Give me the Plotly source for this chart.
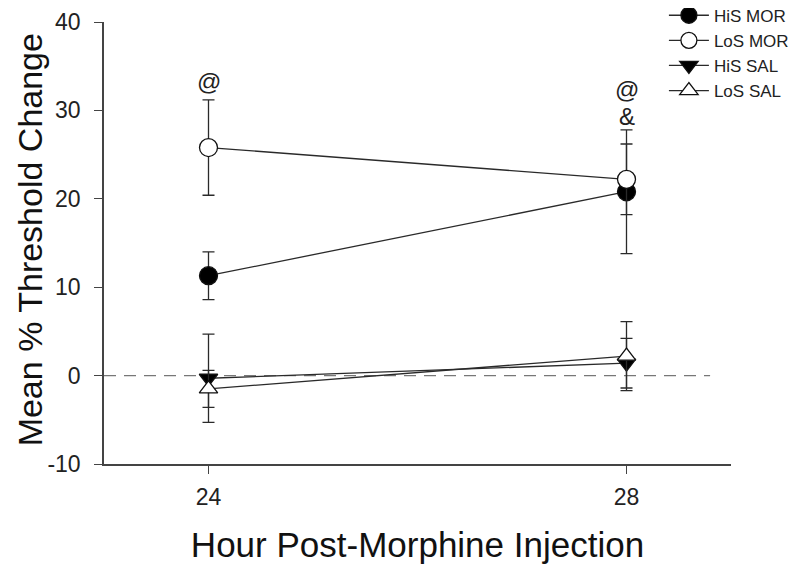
import plotly.graph_objects as go

hours = [24, 28]
his_mor = [11.3, 20.8]
his_mor_err = [2.7, 7.0]
los_mor = [25.8, 22.2]
los_mor_err = [5.4, 4.0]
his_sal = [-0.3, 1.4]
his_sal_err = [5.0, 2.8]
los_sal = [-1.5, 2.2]
los_sal_err = [2.1, 3.9]

y_ticks = [-10, 0, 10, 20, 30, 40]
y_tick_text = ["-10", "0", "10", "20", "30", "40"]
x_ticks = [24, 28]

marks = [("@", 24, 33.3), ("@", 28, 32.4), ("&", 28, 29.3)]

LINE = "#2a2a2a"
FONT = "Liberation Sans, Arial, sans-serif"

fig = go.Figure()

def add(name, y, err, symbol, fill, size):
    fig.add_trace(go.Scatter(
        x=hours, y=y, name=name, mode="lines+markers",
        line=dict(color=LINE, width=1.3),
        marker=dict(symbol=symbol, size=size, color=fill,
                    line=dict(color="#111111", width=1.3)),
        error_y=dict(type="data", array=err, visible=True,
                     color=LINE, thickness=1.3, width=6),
    ))

add("HiS SAL", his_sal, his_sal_err, "triangle-down", "#000000", 16)
add("LoS SAL", los_sal, los_sal_err, "triangle-up", "#ffffff", 16)
add("HiS MOR", his_mor, his_mor_err, "circle", "#000000", 18)
add("LoS MOR", los_mor, los_mor_err, "circle", "#ffffff", 18)

fig.add_shape(type="line", x0=23, x1=28.8, y0=0, y1=0, xref="x", yref="y",
              line=dict(color="#777777", width=1.3, dash="12px,8px"), layer="below")

for txt, x, y in marks:
    fig.add_annotation(x=x, y=y, text=txt, showarrow=False,
                       font=dict(size=24, color="#222222", family=FONT))

# y-axis title as a rotated annotation for precise placement
fig.add_annotation(text="Mean % Threshold Change", xref="paper", yref="paper",
                   x=-0.118, y=0.506, xanchor="center", yanchor="middle",
                   textangle=-90, showarrow=False, borderpad=0,
                   font=dict(size=34, family=FONT, color="#111111"))

fig.update_layout(
    width=800, height=570,
    margin=dict(l=96, r=77, t=14, b=114, autoexpand=False),
    plot_bgcolor="white", paper_bgcolor="white",
    font=dict(family=FONT, color="#222222"),
    showlegend=True,
    legend=dict(x=0.893, y=1.055, xanchor="left", yanchor="top",
                font=dict(size=17, family=FONT, color="#222222"),
                bgcolor="rgba(0,0,0,0)", traceorder="normal",
                itemwidth=40),
    xaxis=dict(range=[23, 29], tickvals=x_ticks,
               showgrid=False, zeroline=False, showline=True, automargin=False,
               linecolor="#444444", linewidth=1.5, ticks="outside",
               ticklen=8, tickcolor="#444444", tickwidth=1.3,
               ticklabelstandoff=4,
               tickfont=dict(size=23, family=FONT, color="#222222"),
               title=dict(text="Hour Post-Morphine Injection",
                          font=dict(size=35, family=FONT, color="#111111"),
                          standoff=23)),
    yaxis=dict(range=[-10, 40], tickvals=y_ticks, ticktext=y_tick_text,
               showgrid=False, zeroline=False, showline=True, automargin=False,
               linecolor="#444444", linewidth=1.5, ticks="outside",
               ticklen=8, tickcolor="#444444", tickwidth=1.3,
               ticklabelstandoff=9,
               tickfont=dict(size=23, family=FONT, color="#222222")),
)

# legend order as in the reference
fig.data = (fig.data[2], fig.data[3], fig.data[0], fig.data[1])

fig.write_html("out.html")
